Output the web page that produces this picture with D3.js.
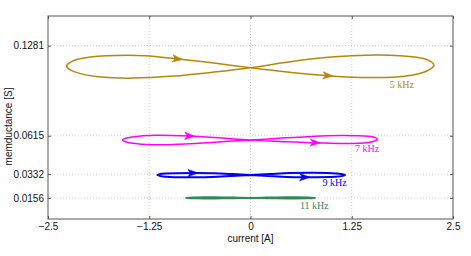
<!DOCTYPE html>
<html>
<head>
<meta charset="utf-8">
<script src="https://cdn.jsdelivr.net/npm/d3@7"></script>
<style>
  body { margin: 0; background: #fff; }
  svg { display: block; }
  .tick text { font-family: "Liberation Sans", Arial, sans-serif; font-size: 10px; fill: #111; }
  .grid line { stroke: #cfcfcf; stroke-dasharray: 1,2; }
</style>
</head>
<body>
<div id="chart"></div>
<script>
// axis ticks
const xTicks = [-2.5, -1.25, 0, 1.25, 2.5];
const xTickLabels = ['\u22122.5', '\u22121.25', '0', '1.25', '2.5'];
const yTicks = [0.0156, 0.0332, 0.0615, 0.1281];
const yTickLabels = ['0.0156', '0.0332', '0.0615', '0.1281'];

// one loop per frequency, points read along the path (current in A, memductance in S)
const freqLabels = ['5 kHz', '7 kHz', '9 kHz', '11 kHz'];
const freqColors = ['#b8860b', '#ff00ff', '#0000ff', '#2e8b57'];

const current5 = [-2.27, -2.12, -1.78, -1.30, -0.90, -0.45, 0, 0.45, 0.957, 1.35, 1.80, 2.13,
  2.265, 2.12, 1.72, 1.25, 0.80, 0.40, 0, -0.45, -0.95, -1.45, -1.88, -2.16];
const memd5 = [0.1133, 0.1182, 0.1206, 0.1207, 0.1183, 0.1152, 0.1118, 0.1087, 0.1059, 0.1046, 0.1049, 0.1082,
  0.1138, 0.1188, 0.1210, 0.1207, 0.1186, 0.1154, 0.1118, 0.1086, 0.1056, 0.1041, 0.1051, 0.1085];

const current7 = [-1.58, -1.46, -1.18, -0.75, -0.35, 0, 0.35, 0.80, 1.15, 1.46,
  1.565, 1.46, 1.10, 0.70, 0.35, 0, -0.35, -0.80, -1.20, -1.48];
const memd7 = [0.0584, 0.0606, 0.0619, 0.0613, 0.0598, 0.0584, 0.0572, 0.0564, 0.0558, 0.0566,
  0.0589, 0.0611, 0.0617, 0.0608, 0.0596, 0.0584, 0.0571, 0.0554, 0.0548, 0.0562];

const current9 = [-1.15, -1.05, -0.71, -0.45, -0.22, 0, 0.22, 0.45, 0.67, 1.05,
  1.167, 1.06, 0.78, 0.48, 0.24, 0, -0.24, -0.48, -0.80, -1.05];
const memd9 = [0.0325, 0.0337, 0.0340, 0.0338, 0.0332, 0.0325, 0.0318, 0.0311, 0.0309, 0.0313,
  0.0325, 0.0337, 0.0341, 0.0339, 0.0332, 0.0325, 0.0318, 0.0311, 0.0308, 0.0313];

const current11 = [-0.80, -0.70, -0.45, -0.20, 0, 0.20, 0.45, 0.70,
  0.80, 0.70, 0.45, 0.20, 0, -0.20, -0.45, -0.70];
const memd11 = [0.0156, 0.0159, 0.0160, 0.0158, 0.0156, 0.0154, 0.0152, 0.0153,
  0.0156, 0.0159, 0.0160, 0.0158, 0.0156, 0.0154, 0.0152, 0.0153];

// point indices where a direction arrow sits
const arrows5 = [4, 8];
const arrows7 = [3, 7];
const arrows9 = [2, 8];
const arrows11 = [];

// where each frequency label starts (data units)
const labelCurrent = [1.72, 1.29, 0.89, 0.61];
const labelMemd = [0.0970, 0.0497, 0.0244, 0.0076];

const loops = [
  { x: current5, y: memd5, arrows: arrows5, width: 1.5 },
  { x: current7, y: memd7, arrows: arrows7, width: 1.5 },
  { x: current9, y: memd9, arrows: arrows9, width: 2 },
  { x: current11, y: memd11, arrows: arrows11, width: 2 }
];

const W = 471, H = 256;
const margin = { top: 16, right: 18, bottom: 37, left: 48 };
const width = W - margin.left - margin.right;
const height = H - margin.top - margin.bottom;

const svg = d3.select('#chart').append('svg')
  .attr('width', W)
  .attr('height', H);
const g = svg.append('g')
  .attr('transform', `translate(${margin.left},${margin.top})`);

const x = d3.scaleLinear().domain([-2.5, 2.5]).range([0, width]);
const y = d3.scaleLinear().domain([0, 0.15]).range([height, 0]);

// grid
g.append('g').attr('class', 'grid')
  .selectAll('line').data(xTicks.slice(1, -1)).enter().append('line')
  .attr('x1', d => x(d)).attr('x2', d => x(d))
  .attr('y1', 0).attr('y2', height);
g.append('g').attr('class', 'grid')
  .selectAll('line').data(yTicks).enter().append('line')
  .attr('x1', 0).attr('x2', width)
  .attr('y1', d => y(d)).attr('y2', d => y(d));

// axes, ticks pointing inward like matlab
const fmtX = d => xTickLabels[xTicks.indexOf(d)];
const fmtY = d => yTickLabels[yTicks.indexOf(d)];

const styleAxis = sel => {
  sel.select('.domain').remove();
  sel.selectAll('.tick line').attr('stroke', '#555');
};

g.append('g')
  .attr('transform', `translate(0,${height})`)
  .call(d3.axisBottom(x).tickValues(xTicks).tickFormat(fmtX).tickSize(-3).tickPadding(4))
  .call(styleAxis);
g.append('g')
  .call(d3.axisTop(x).tickValues(xTicks).tickFormat('').tickSize(-3))
  .call(styleAxis);
g.append('g')
  .call(d3.axisLeft(y).tickValues(yTicks).tickFormat(fmtY).tickSize(-3).tickPadding(4))
  .call(styleAxis);
g.append('g')
  .attr('transform', `translate(${width},0)`)
  .call(d3.axisRight(y).tickValues(yTicks).tickFormat('').tickSize(-3))
  .call(styleAxis);

g.append('rect')
  .attr('width', width).attr('height', height)
  .attr('fill', 'none').attr('stroke', '#555').attr('stroke-width', 1);

// loops
const line = d3.line()
  .x(d => x(d[0]))
  .y(d => y(d[1]))
  .curve(d3.curveCardinalClosed.tension(0.1));

loops.forEach((lp, i) => {
  const pts = lp.x.map((v, k) => [v, lp.y[k]]);
  g.append('path')
    .datum(pts)
    .attr('d', line)
    .attr('fill', 'none')
    .attr('stroke', freqColors[i])
    .attr('stroke-width', lp.width)
    .attr('stroke-linejoin', 'round');

  lp.arrows.forEach(k => {
    const n = pts.length;
    const a = pts[(k - 1 + n) % n], b = pts[(k + 1) % n];
    const ang = Math.atan2(y(b[1]) - y(a[1]), x(b[0]) - x(a[0])) * 180 / Math.PI;
    g.append('path')
      .attr('d', 'M5,0 L-5,-3.6 L-2.5,0 L-5,3.6 Z')
      .attr('transform', `translate(${x(pts[k][0])},${y(pts[k][1])}) rotate(${ang})`)
      .attr('fill', freqColors[i])
      .attr('stroke', freqColors[i])
      .attr('stroke-width', 0.6);
  });

  g.append('text')
    .attr('x', x(labelCurrent[i]))
    .attr('y', y(labelMemd[i]))
    .attr('fill', freqColors[i])
    .style('font-family', '"Liberation Serif", "Times New Roman", serif')
    .style('font-size', '10px')
    .text(freqLabels[i]);
});

// axis titles
g.append('text')
  .attr('x', width / 2)
  .attr('y', height + 23)
  .attr('text-anchor', 'middle')
  .style('font-family', '"Liberation Sans", Arial, sans-serif')
  .style('font-size', '10px')
  .attr('fill', '#111')
  .text('current [A]');

g.append('text')
  .attr('transform', 'rotate(-90)')
  .attr('x', -(height / 2) - 9)
  .attr('y', -36)
  .attr('text-anchor', 'middle')
  .style('font-family', '"Liberation Sans", Arial, sans-serif')
  .style('font-size', '10px')
  .attr('fill', '#111')
  .text('memductance [S]');
</script>
</body>
</html>
